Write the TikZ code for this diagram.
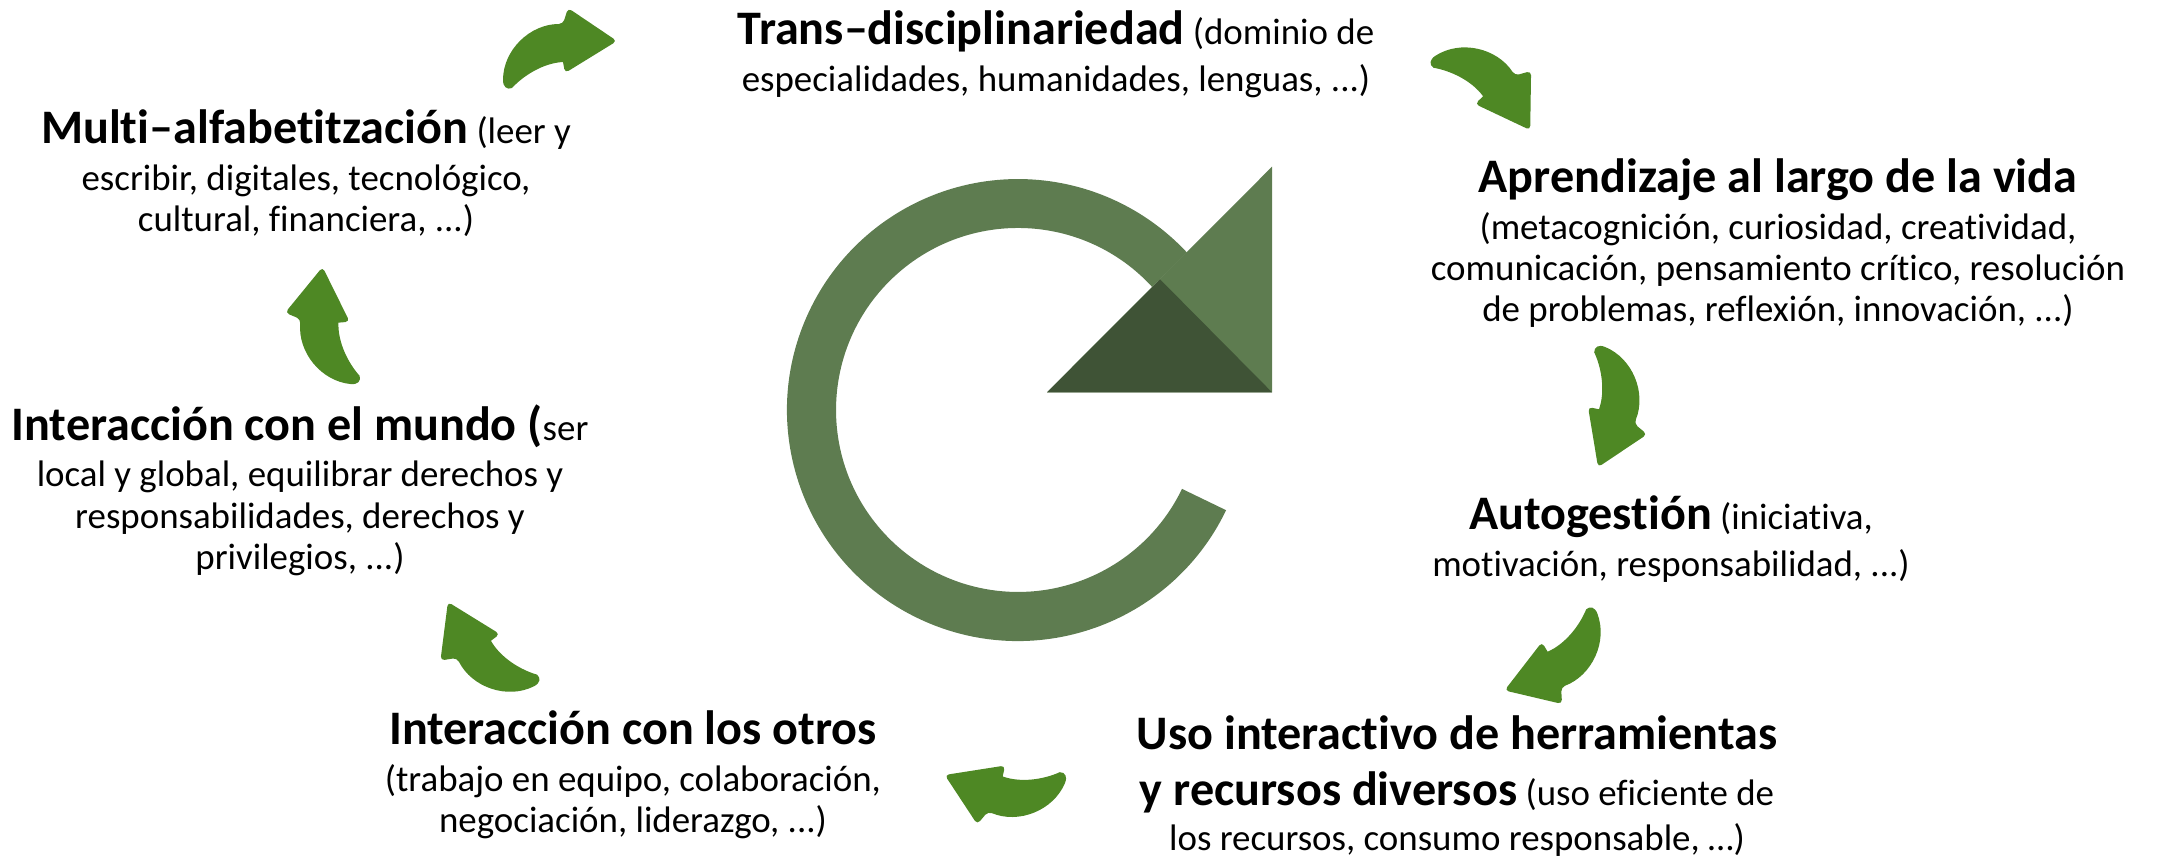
\documentclass[tikz,border=0pt]{standalone}
\usepackage{fontspec}
\setmainfont{Carlito}[Ligatures=NoCommon]
\definecolor{arrowgreen}{RGB}{78,136,36}
\definecolor{ringgreen}{RGB}{94,124,80}
\definecolor{ringdark}{RGB}{63,83,54}
\newcommand{\ctitle}[1]{{\fontsize{13.7}{15}\selectfont\bfseries #1}}
\begin{document}
\begin{tikzpicture}
  [x=0.1mm, y=0.1mm
  ,topic/.style={align=center, inner sep=0pt, font=\fontsize{10.5}{11.7}\selectfont}
  ,curved/.style={fill=arrowgreen}
  ]

  % Curved arrow
  %
  % #1 - tail position
  % #2 - rotation
  \newcommand{\garrow}[2]{
    \path[curved, shift={#1}, rotate=#2]
      (7,2) .. controls (18,14) and (38,27) .. (58,28)
      [rounded corners=1.2pt] -- (60,17) -- (112,49) -- (63,82) -- (58,66)
      [sharp corners] .. controls (25,66) and (-2,40) .. (-2,10)
      .. controls (-2,3) and (2,0) .. (7,2) -- cycle;
  }

  \useasboundingbox (0,0) rectangle (2159,858);

  % ring
  \fill[ringgreen] (1226.1,347.8)
    arc[start angle=-25.7, end angle=-317.0, radius=231]
    -- (1152.2,571.0)
    arc[start angle=-317.5, end angle=-25.7, radius=182]
    -- cycle;

  % arrow head
  \fill[ringgreen] (1047,465.7) -- (1272,691.3) -- (1272,465.7) -- cycle;
  \fill[ringdark] (1047,465.7) -- (1160,578.7) -- (1272,465.7) -- cycle;

  % topics
  \node[topic] (trans) at (1056,804)
    {\ctitle{Trans–disciplinariedad} (dominio de\\[1.6pt]especialidades, humanidades, lenguas, ...)};
  \node[topic] (multi) at (306,685)
    {\ctitle{Multi–alfabetitzación} (leer y\\[1.6pt]escribir, digitales, tecnológico,\\cultural, financiera, ...)};
  \node[topic] (aprend) at (1778,615)
    {\ctitle{Aprendizaje al largo de la vida}\\[1.6pt](metacognición, curiosidad, creatividad,\\comunicación, pensamiento crítico, resolución\\de problemas, reflexión, innovación, ...)};
  \node[topic] (mundo) at (300,368)
    {\ctitle{Interacción con el mundo (}ser\\[1.6pt]local y global, equilibrar derechos y\\responsabilidades, derechos y\\privilegios, ...)};
  \node[topic] (autog) at (1671,319)
    {\ctitle{Autogestión} (iniciativa,\\[1.6pt]motivación, responsabilidad, ...)};
  \node[topic] (otros) at (633,83)
    {\ctitle{Interacción con los otros}\\[1.6pt](trabajo en equipo, colaboración,\\negociación, liderazgo, ...)};
  \node[topic] (uso) at (1457,72)
    {\ctitle{Uso interactivo de herramientas}\\[4.3pt]\ctitle{y recursos diversos} (uso eficiente de\\[0.9pt]los recursos, consumo responsable, …)};

  % cycle arrows
  \garrow{(505,768)}{0}
  \garrow{(1428,795)}{-56.9}
  \garrow{(1595,513)}{-112.2}
  \garrow{(1592,253)}{-159.3}
  \garrow{(1067,85)}{157.3}
  \garrow{(542,178)}{116.7}
  \garrow{(361,475)}{84.7}

\end{tikzpicture}
\end{document}
